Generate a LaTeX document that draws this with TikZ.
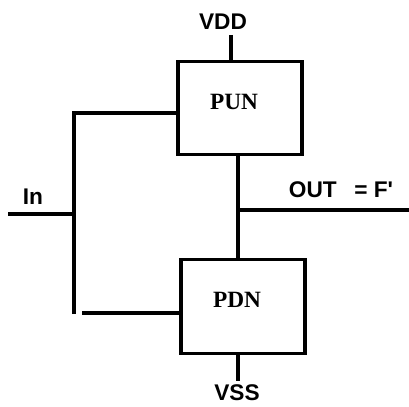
\documentclass[tikz,border=0pt]{standalone}
\usepackage{fontspec}
\setmainfont{Liberation Serif}
\setsansfont{Liberation Sans}
\usepackage{tikz}
\usetikzlibrary{positioning,calc}

\begin{document}
\begin{tikzpicture}[x=0.75pt,y=-0.75pt,
  net/.style={draw,rectangle,line width=2.4pt,minimum width=93pt,minimum height=70pt,
              inner sep=0pt},
  ntxt/.style={font=\fontsize{17.5}{20}\selectfont\bfseries,inner sep=0pt},
  lbl/.style={font=\fontsize{17}{19}\selectfont\sffamily\bfseries,inner sep=0pt},
  wire/.style={line width=2.4pt}
]
\useasboundingbox (0,0) rectangle (409,406);

% Networks
\node[net] (pun) at (240,108) {};
\node[net] (pdn) at (243,306.5) {};
\node[ntxt] (puntxt) at (234,102) {PUN};
\node[ntxt] (pdntxt) at (237,300) {PDN};

% Supply labels
\node[lbl] (vdd) at (223,22) {VDD};
\node[lbl] (vss) at (237,393) {VSS};
\coordinate (vddtop) at (231,35);
\coordinate (vssbot) at (238,381);
\draw[wire] (vddtop) -- (vddtop |- pun.north);
\draw[wire] (vssbot |- pdn.south) -- (vssbot);

% Input bus
\node[lbl] (in) at (33,197) {In};
\coordinate (bt) at (74,113);
\coordinate (bb) at (74,314);
\coordinate (inend) at (8,214);
\coordinate (pdnin) at (82,313);
\draw[wire] (bb) -- (bt) -- (bt -| pun.west);
\draw[wire] (pdnin) -- (pdnin -| pdn.west);
\draw[wire] (inend) -- (inend -| bt);

% Output
\node[lbl] (out) at (341,190) {OUT\enspace\ = F\textquotesingle};
\coordinate (outj) at (238,210);
\coordinate (outend) at (409,210);
\draw[wire] (outj |- pun.south) -- (outj |- pdn.north);
\draw[wire] (outj) -- (outend);

\end{tikzpicture}
\end{document}
